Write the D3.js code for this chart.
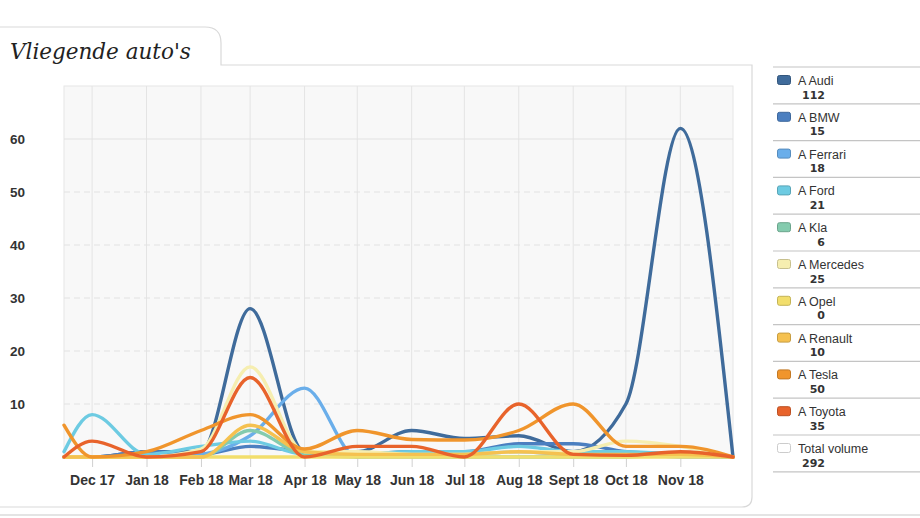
<!DOCTYPE html>
<html><head><meta charset="utf-8">
<script src="https://cdn.jsdelivr.net/npm/d3@7"></script>
<style>
body{margin:0;background:#fff;}
svg{display:block;}
</style></head>
<body>
<svg id="chart" width="920" height="518"></svg>
<script>
const title = "Vliegende auto's";
const dates = ["2017-11-15","2017-12-01","2018-01-01","2018-02-01","2018-03-01","2018-04-01","2018-05-01","2018-06-01","2018-07-01","2018-08-01","2018-09-01","2018-10-01","2018-11-01","2018-12-01"];
const tickDates = ["2017-12-01","2018-01-01","2018-02-01","2018-03-01","2018-04-01","2018-05-01","2018-06-01","2018-07-01","2018-08-01","2018-09-01","2018-10-01","2018-11-01"];
const tickLabels = ["Dec 17","Jan 18","Feb 18","Mar 18","Apr 18","May 18","Jun 18","Jul 18","Aug 18","Sept 18","Oct 18","Nov 18"];
const yTicks = [10,20,30,40,50,60];
const seriesNames = ["A Audi","A BMW","A Ferrari","A Ford","A Kla","A Mercedes","A Opel","A Renault","A Tesla","A Toyota"];
const seriesColors = ["#3f6b9b","#4b7fc0","#6aaeea","#6dcbe2","#84cbae","#f6eeb0","#f2de6c","#f5c150","#f0952c","#e8632b"];
const totals = ["112","15","18","21","6","25","0","10","50","35"];
const totalLabel = "Total volume";
const totalValue = "292";

const audi     = [0, 0, 1, 1, 28, 1, 1, 5, 3.5, 4, 1, 10, 62, 0];
const bmw      = [0, 0, 1, 0.5, 2, 1, 0.5, 1, 1, 2.5, 2.5, 1, 0.5, 0];
const ferrari  = [0, 0, 0, 0.5, 4, 13, 0, 0.5, 0.5, 1, 0.5, 0.5, 0, 0];
const ford     = [1, 8, 0.5, 2, 3, 0.5, 0.5, 1, 1, 2, 1, 1, 0.5, 0];
const kia      = [0, 0, 0, 0, 5, 0.5, 0, 0, 0, 0, 0, 0, 0.5, 0];
const mercedes = [0, 0, 0, 1.5, 17, 1, 1, 0.5, 0.5, 1, 1, 3, 2, 0];
const opel     = [0, 0, 0, 0, 0, 0, 0, 0, 0, 0, 0, 0, 0, 0];
const renault  = [0, 0, 0, 0, 6, 1, 0.5, 0.5, 0.5, 1, 0.5, 0.5, 0.5, 0];
const tesla    = [6, 0, 1, 5, 8, 1.5, 5, 3.3, 3.2, 5, 10, 2, 2, 0];
const toyota   = [0, 3, 0, 1, 15, 0, 2, 2, 0, 10, 0.5, 0.3, 1, 0];
const seriesValues = [audi, bmw, ferrari, ford, kia, mercedes, opel, renault, tesla, toyota];

const svg = d3.select("#chart");
const parse = d3.utcParse("%Y-%m-%d");
const L = 64, R = 733, T = 86, B = 457;

// card / tab
svg.append("path")
  .attr("d", "M0,27 L205,27 Q221,27 221,43 L221,65 L752,65 L752,497 Q752,507 742,507 L0,507")
  .attr("fill", "none").attr("stroke", "#d9d9d9").attr("stroke-width", 1.2);
svg.append("line").attr("x1",0).attr("x2",920).attr("y1",515).attr("y2",515).attr("stroke","#e4e4e4").attr("stroke-width",2);

svg.append("text").attr("x", 10).attr("y", 59)
  .attr("font-family", "DejaVu Serif").attr("font-style", "italic")
  .attr("font-size", 21.5).attr("fill", "#222").text(title);

const x = d3.scaleUtc().domain([parse(dates[0]), parse(dates[dates.length-1])]).range([L, R]);
const y = d3.scaleLinear().domain([0, 70]).range([B, T]);

svg.append("rect").attr("x", L).attr("y", T).attr("width", R-L).attr("height", B-T)
  .attr("fill", "#f8f8f8").attr("stroke", "#e6e6e6");

// vertical grid
svg.append("g").selectAll("line").data(tickDates).join("line")
  .attr("x1", d => x(parse(d))).attr("x2", d => x(parse(d)))
  .attr("y1", T).attr("y2", B).attr("stroke", "#e4e4e4").attr("stroke-width", 1);
// horizontal grid
svg.append("g").selectAll("line").data(yTicks).join("line")
  .attr("x1", L).attr("x2", R).attr("y1", d => y(d)).attr("y2", d => y(d))
  .attr("stroke", "#e2e2e2").attr("stroke-width", 1)
  .attr("stroke-dasharray", d => d === 60 ? null : "6,4");

// y labels
svg.append("g").selectAll("text").data(yTicks).join("text")
  .attr("x", 25).attr("y", d => y(d) + 5).attr("text-anchor", "end")
  .attr("font-family", "Liberation Sans, Arial").attr("font-weight", "bold")
  .attr("font-size", 13.5).attr("fill", "#333").text(d => d);

// x axis
const xAxis = d3.axisBottom(x).tickValues(tickDates.map(parse))
  .tickFormat((d, i) => tickLabels[i]).tickSize(9).tickPadding(8);
const gx = svg.append("g").attr("transform", `translate(0,${B+1})`).call(xAxis);
gx.select(".domain").remove();
gx.selectAll("line").attr("stroke", "#d0d0d0");
gx.selectAll("text").attr("font-family", "Liberation Sans, Arial").attr("font-weight", "bold")
  .attr("font-size", 14).attr("fill", "#333");

// lines
const line = d3.line().x((d, i) => x(parse(dates[i]))).y(d => y(d)).curve(d3.curveMonotoneX);
svg.append("g").selectAll("path").data(seriesValues).join("path")
  .attr("d", d => line(d)).attr("fill", "none")
  .attr("stroke", (d, i) => seriesColors[i]).attr("stroke-width", 3.4)
  .attr("stroke-linejoin", "round").attr("stroke-linecap", "round");

// legend
const legendItems = seriesNames.map((n, i) => ({name: n, color: seriesColors[i], value: totals[i]}))
  .concat([{name: totalLabel, color: "#ffffff", value: totalValue}]);
const lg = svg.append("g");
const step = 36.8, top0 = 67;
lg.append("line").attr("x1", 773).attr("x2", 920).attr("y1", top0).attr("y2", top0).attr("stroke", "#c4c4c4").attr("stroke-width", 1.2);
const items = lg.selectAll("g").data(legendItems).join("g")
  .attr("transform", (d, i) => `translate(0,${top0 + i*step})`);
items.append("line").attr("x1", 773).attr("x2", 920).attr("y1", step).attr("y2", step)
  .attr("stroke", "#c4c4c4").attr("stroke-width", 1.2);
items.append("rect").attr("x", 777.5).attr("y", 8.5).attr("width", 13).attr("height", 9).attr("rx", 2)
  .attr("fill", d => d.color)
  .attr("stroke", d => d.color === "#ffffff" ? "#cccccc" : d3.color(d.color).darker(0.6)).attr("stroke-width", 1);
items.append("text").attr("x", 798).attr("y", 18).attr("font-family", "Liberation Sans, Arial")
  .attr("font-size", 12.5).attr("fill", "#333").text(d => d.name);
items.append("text").attr("x", 825).attr("y", 31.5).attr("text-anchor", "end")
  .attr("font-family", "DejaVu Sans").attr("font-weight", "bold")
  .attr("font-size", 11).attr("fill", "#333").text(d => d.value);
</script>
</body></html>
